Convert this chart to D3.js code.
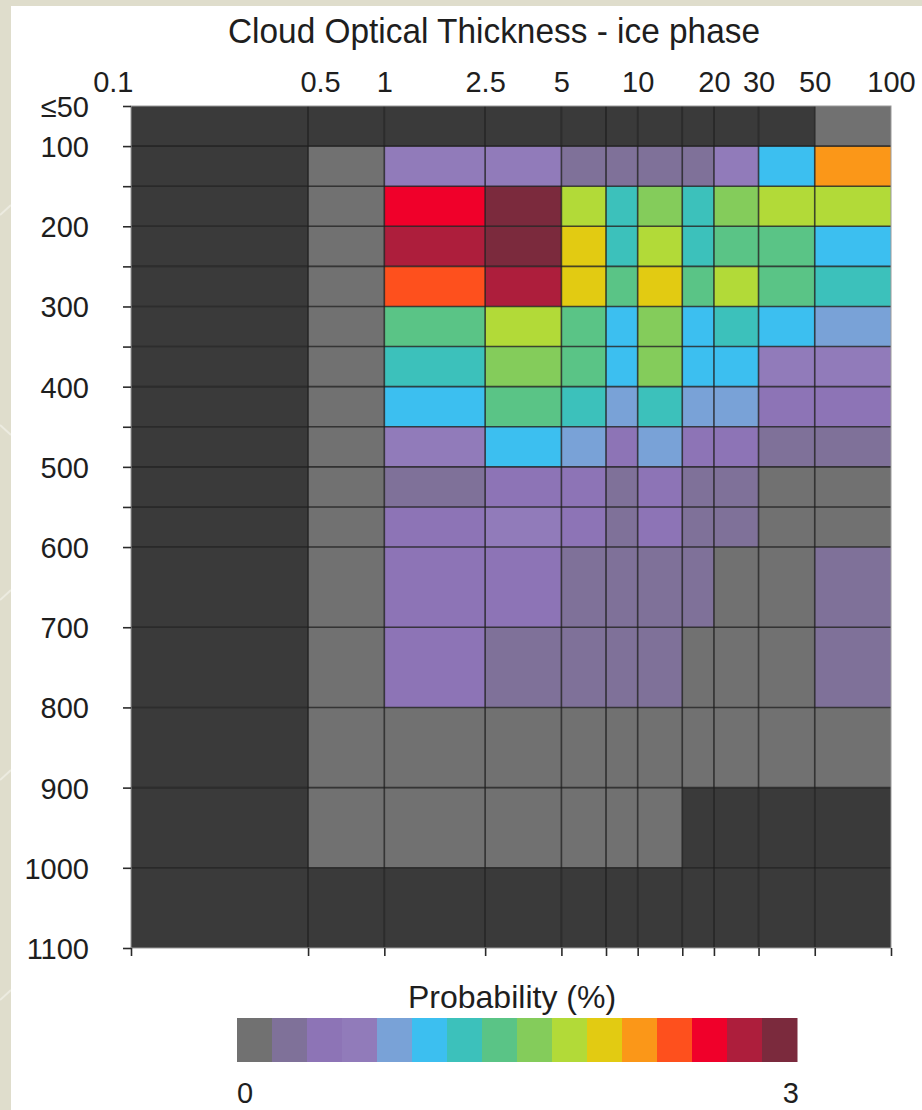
<!DOCTYPE html>
<html>
<head>
<meta charset="utf-8">
<script src="https://cdn.jsdelivr.net/npm/d3@7"></script>
<style>
  html, body { margin: 0; padding: 0; background: #dfddcc; }
  svg { display: block; font-family: "Liberation Sans", Arial, Helvetica, sans-serif; }
</style>
</head>
<body>
<svg id="chart" width="922" height="1110"></svg>
<script>
// Cloud optical thickness bin edges (log axis) and their top labels
const tauEdges = [0.1, 0.5, 1, 2.5, 5, 7.5, 10, 15, 20, 30, 50, 100];
const tauLabels = ["0.1", "0.5", "1", "2.5", "5", "", "10", "", "20", "30", "50", "100"];

// Cloud-top pressure bin edges (hPa)
const pressureEdges = [50, 100, 150, 200, 250, 300, 350, 400, 450, 500, 550, 600, 700, 800, 900, 1000, 1100];
const pressureLabelled = [50, 100, 200, 300, 400, 500, 600, 700, 800, 900, 1000, 1100];

// Joint probability (%) – one row per pressure bin (top to bottom),
// one column per optical-thickness bin (left to right); null = no retrievals
const probability = [
  [null, null, null, null, null, null, null, null, null, null, 0.10],
  [null, 0.10, 0.65, 0.65, 0.28, 0.28, 0.28, 0.28, 0.65, 1.03, 2.15],
  [null, 0.10, 2.53, 2.90, 1.78, 1.22, 1.60, 1.22, 1.60, 1.78, 1.78],
  [null, 0.10, 2.72, 2.90, 1.97, 1.22, 1.78, 1.22, 1.40, 1.40, 1.03],
  [null, 0.10, 2.35, 2.72, 1.97, 1.40, 1.97, 1.40, 1.78, 1.40, 1.22],
  [null, 0.10, 1.40, 1.78, 1.40, 1.03, 1.60, 1.03, 1.22, 1.03, 0.85],
  [null, 0.10, 1.22, 1.60, 1.40, 1.03, 1.60, 1.03, 1.03, 0.65, 0.65],
  [null, 0.10, 1.03, 1.40, 1.22, 0.85, 1.22, 0.85, 0.85, 0.47, 0.47],
  [null, 0.10, 0.65, 1.03, 0.85, 0.47, 0.85, 0.47, 0.47, 0.28, 0.28],
  [null, 0.10, 0.28, 0.47, 0.47, 0.28, 0.47, 0.28, 0.28, 0.10, 0.10],
  [null, 0.10, 0.47, 0.65, 0.47, 0.28, 0.47, 0.28, 0.28, 0.10, 0.10],
  [null, 0.10, 0.47, 0.47, 0.28, 0.28, 0.28, 0.28, 0.10, 0.10, 0.28],
  [null, 0.10, 0.47, 0.28, 0.28, 0.28, 0.28, 0.10, 0.10, 0.10, 0.28],
  [null, 0.10, 0.10, 0.10, 0.10, 0.10, 0.10, 0.10, 0.10, 0.10, 0.10],
  [null, 0.10, 0.10, 0.10, 0.10, 0.10, 0.10, null, null, null, null],
  [null, null, null, null, null, null, null, null, null, null, null]
];

// 16-step colour key, 0 % to 3 %
const legendColors = [
  "#717171", "#7f7199", "#8d74b6", "#917bba", "#79a2d7", "#3cbff0",
  "#3cc1bb", "#5ac486", "#84cc5b", "#b2da38", "#e2cb12", "#fb9718",
  "#fe501d", "#f0002a", "#ad1e3c", "#7b2a3d"
];
const probabilityRange = [0, 3];
const legendEnds = ["0", "3"];
const noDataColor = "#3a3a3a";

const titleText = "Cloud Optical Thickness - ice phase";
const legendTitle = "Probability (%)";

const svg = d3.select("#chart");
const W = 922, H = 1110;

// page backdrop: beige frame with a white sheet
svg.append("rect").attr("width", W).attr("height", H).attr("fill", "#dfddcc");
const deco = svg.append("g").attr("stroke", "#ecebe0").attr("stroke-width", 2).attr("fill", "none");
deco.append("path").attr("d", "M0,215 L11,205");
deco.append("path").attr("d", "M0,425 L11,435");
deco.append("path").attr("d", "M0,600 L11,590");
deco.append("path").attr("d", "M0,780 L11,770");
deco.append("path").attr("d", "M0,1000 L11,990");
svg.append("rect").attr("x", 11).attr("y", 6).attr("width", W - 11).attr("height", H - 6).attr("fill", "#ffffff");

const x = d3.scaleLog().domain([tauEdges[0], tauEdges[tauEdges.length - 1]]).range([131, 891]);
const y = d3.scaleLinear().domain([pressureEdges[0], pressureEdges[pressureEdges.length - 1]]).range([106, 948]);
const color = d3.scaleQuantize().domain(probabilityRange).range(legendColors);

// heat-map cells
const cells = [];
probability.forEach((row, i) => row.forEach((v, j) => cells.push({ i, j, v })));

svg.append("g").selectAll("rect").data(cells).join("rect")
  .attr("x", d => x(tauEdges[d.j]))
  .attr("y", d => y(pressureEdges[d.i]))
  .attr("width", d => x(tauEdges[d.j + 1]) - x(tauEdges[d.j]))
  .attr("height", d => y(pressureEdges[d.i + 1]) - y(pressureEdges[d.i]))
  .attr("fill", d => d.v == null ? noDataColor : color(d.v));

// cell grid
const grid = svg.append("g").attr("stroke", "#1e1e1e").attr("stroke-opacity", 0.8).attr("stroke-width", 1.6);
grid.selectAll("line.v").data(tauEdges.slice(1, -1)).join("line")
  .attr("x1", d => x(d)).attr("x2", d => x(d))
  .attr("y1", y.range()[0]).attr("y2", y.range()[1]);
grid.selectAll("line.h").data(pressureEdges.slice(1, -1)).join("line")
  .attr("x1", x.range()[0]).attr("x2", x.range()[1])
  .attr("y1", d => y(d)).attr("y2", d => y(d));

// frame
svg.append("rect")
  .attr("x", x.range()[0]).attr("y", y.range()[0])
  .attr("width", x.range()[1] - x.range()[0]).attr("height", y.range()[1] - y.range()[0])
  .attr("fill", "none").attr("stroke", "#9a9a9a").attr("stroke-width", 1);

// left pressure axis
const yAxis = d3.axisLeft(y)
  .tickValues(pressureEdges)
  .tickSize(8)
  .tickPadding(34)
  .tickFormat(d => pressureLabelled.includes(d) ? (d === 50 ? "≤50" : String(d)) : "");
const gy = svg.append("g").attr("transform", `translate(${x.range()[0]},0)`).call(yAxis);
gy.select(".domain").remove();
gy.selectAll(".tick line").attr("stroke", "#2a2a2a").attr("stroke-width", 1.6);
gy.selectAll(".tick text")
  .attr("font-size", 29).attr("fill", "#1e1e1e")
  .attr("font-family", "'Liberation Sans', Arial, sans-serif")
  .attr("dy", "0.36em");

// top optical-thickness labels
const xTop = d3.axisTop(x)
  .tickValues(tauEdges)
  .tickSize(0)
  .tickPadding(14)
  .tickFormat((d, i) => tauLabels[i]);
const gt = svg.append("g").attr("transform", `translate(0,${y.range()[0]})`).call(xTop);
gt.select(".domain").remove();
gt.selectAll(".tick text")
  .attr("font-size", 29).attr("fill", "#1e1e1e")
  .attr("font-family", "'Liberation Sans', Arial, sans-serif")
  .attr("text-anchor", (d, i) => i === 0 ? "end" : "middle")
  .attr("dx", (d, i) => i === 0 ? 2 : (i === 1 ? 12 : 0));

// bottom tick marks
const xBottom = d3.axisBottom(x).tickValues(tauEdges).tickSize(8).tickFormat("");
const gb = svg.append("g").attr("transform", `translate(0,${y.range()[1]})`).call(xBottom);
gb.select(".domain").remove();
gb.selectAll(".tick line").attr("stroke", "#2a2a2a").attr("stroke-width", 1.6);

// title
svg.append("text")
  .attr("x", 494).attr("y", 43)
  .attr("text-anchor", "middle")
  .attr("font-size", 35).attr("fill", "#1e1e1e")
  .attr("textLength", 532).attr("lengthAdjust", "spacingAndGlyphs")
  .text(titleText);

// colour key
const lx = d3.scaleBand().domain(d3.range(legendColors.length)).range([237, 797]);
const legend = svg.append("g");
legend.selectAll("rect").data(legendColors).join("rect")
  .attr("x", (d, i) => lx(i)).attr("y", 1018)
  .attr("width", lx.bandwidth() + 0.5).attr("height", 44)
  .attr("fill", d => d);
legend.append("text")
  .attr("x", 512).attr("y", 1008)
  .attr("text-anchor", "middle")
  .attr("font-size", 32).attr("fill", "#1e1e1e")
  .text(legendTitle);
legend.append("text")
  .attr("x", 237).attr("y", 1103)
  .attr("text-anchor", "start")
  .attr("font-size", 29).attr("fill", "#1e1e1e")
  .text(legendEnds[0]);
legend.append("text")
  .attr("x", 799).attr("y", 1103)
  .attr("text-anchor", "end")
  .attr("font-size", 29).attr("fill", "#1e1e1e")
  .text(legendEnds[1]);
</script>
</body>
</html>
